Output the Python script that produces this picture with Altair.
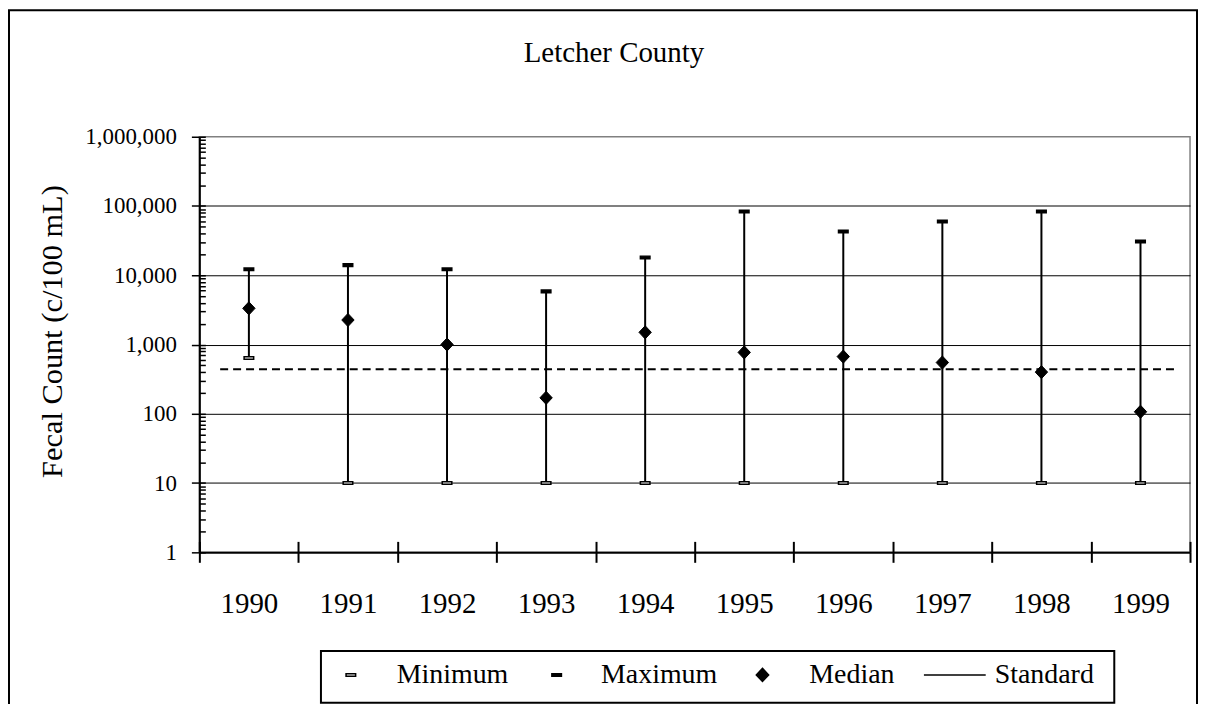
import altair as alt
import pandas as pd

# ---- data ----
years = [1990, 1991, 1992, 1993, 1994, 1995, 1996, 1997, 1998, 1999]
maximum = [12200, 14000, 12200, 5860, 18100, 83400, 42900, 59800, 83400, 30800]
median = [3330, 2260, 1000, 170, 1500, 770, 670, 550, 400, 107]
minimum = [640, 10, 10, 10, 10, 10, 10, 10, 10, 10]
standard_value = 440
standard_x = [1989.71, 1999.36]
series_names = ["Minimum", "Maximum", "Median", "Standard"]
y_major = [1, 10, 100, 1000, 10000, 100000, 1000000]
chart_title = "Letcher County"
y_title = "Fecal Count (c/100 mL)"

# ---- derived tables ----
df = pd.DataFrame({"year": years, "minimum": minimum, "maximum": maximum, "median": median})
rows = []
for y, mn, mx, md in zip(years, minimum, maximum, median):
    rows.append({"year": y, "series": "Minimum", "value": mn})
    rows.append({"year": y, "series": "Maximum", "value": mx})
    rows.append({"year": y, "series": "Median", "value": md})
pts = pd.DataFrame(rows)
std = pd.DataFrame({"sx": standard_x, "sy": [standard_value] * len(standard_x)})

boundaries = [y - 0.5 for y in years] + [years[-1] + 0.5]
x_values = sorted(boundaries + years)
y_minor = [k * 10 ** e for e in range(6) for k in range(1, 10)] + [10 ** 6]

# ---- styling ----
W, H = 994, 417
FONT = "Liberation Serif"
SYM = 400  # symbol area -> unit of custom paths = 10 px

# legend glyphs (unit = 10 px); extra move-to points only widen the legend entry box
min_path = "M0.6,-1.5M0.6,1.5M0.12,-0.13H1.08V0.13H0.12Z"
max_path = "M0.75,-1.5M0.75,1.5M0.27,-0.13H1.23V0.13H0.27Z"
med_path = "M0.5,-1.5M0.5,1.5M0.5,-0.66L1.12,0L0.5,0.66L-0.12,0Z"
std_path = "M-1.9,-1.5M-1.9,1.5M-1.9,0H4.3M15.9,0"
# plot glyphs
rect_path = "M-0.48,-0.13H0.48V0.13H-0.48Z"
diamond_path = "M0,-0.66L0.62,0L0,0.66L-0.62,0Z"

xscale = alt.Scale(domain=[boundaries[0], boundaries[-1]], nice=False, zero=False)
yscale = alt.Scale(type="log", domain=[1, 1000000], nice=False)

bottom_axis = alt.Axis(
    orient="bottom", values=x_values,
    labelExpr="datum.value % 1 === 0 ? format(datum.value, 'd') : ''",
    labelFont=FONT, labelFontSize=29, labelColor="black",
    labelBaseline="alphabetic", labelPadding=50,
    labelOverlap=False, labelFlush=False,
    tickSize=10, tickWidth=2, tickColor="black",
    tickOpacity={"condition": {"test": "datum.value % 1 === 0", "value": 0}, "value": 1},
    domainColor="black", domainWidth=2, grid=False, title=None,
)
left_axis = alt.Axis(
    orient="left", values=y_major,
    labelExpr="format(datum.value, ',')",
    labelFont=FONT, labelFontSize=23, labelColor="black", labelPadding=15,
    labelOverlap=False,
    tickSize=8, tickWidth=1.5, tickColor="black",
    domainColor="black", domainWidth=2,
    grid=True, gridColor="black", gridWidth=1,
    gridOpacity={"condition": {"test": "datum.value >= 1000000 || datum.value <= 1", "value": 0}, "value": 1},
    title=y_title, titleFont=FONT, titleFontSize=30.5, titleFontWeight="normal",
    titleColor="black", titleX=-138, titleY=195, titleBaseline="alphabetic",
    titleAngle=270,
)
top_inner_axis = alt.Axis(
    orient="top", offset=-H, values=boundaries, labels=False, domain=False,
    ticks=True, tickSize=11, tickWidth=2, tickColor="black", grid=False, title=None,
)
right_inner_axis = alt.Axis(
    orient="right", offset=-W, values=y_minor, labels=False, domain=False,
    ticks=True, tickSize=6, tickWidth=1.5, tickColor="black", grid=False, title=None,
)

legend = alt.Legend(
    title=None, orient="none", legendX=122, legendY=516, direction="horizontal",
    labelFont=FONT, labelFontSize=28, labelColor="black", labelOffset=38,
    symbolSize=SYM, symbolStrokeColor="black", symbolStrokeWidth=1.5,
    columnPadding=26, padding=10, strokeColor="black", fillColor="white",
)

bars = alt.Chart(df).mark_rule(color="black", strokeWidth=2).encode(
    x=alt.X("year:Q", scale=xscale, axis=bottom_axis),
    y=alt.Y("minimum:Q", scale=yscale, axis=left_axis),
    y2="maximum:Q",
)

std_line = alt.Chart(std).mark_line(color="black", strokeWidth=2, strokeDash=[8, 5]).encode(
    x=alt.X("sx:Q", scale=xscale, axis=None),
    y=alt.Y("sy:Q", scale=yscale, axis=None),
)

# legend source layer (transparent in the plot)
legend_src = alt.Chart(pts).mark_point(
    filled=True, size=SYM, strokeWidth=1.5, opacity=1
).encode(
    x=alt.X("year:Q", scale=xscale, axis=top_inner_axis),
    y=alt.Y("value:Q", scale=yscale, axis=right_inner_axis),
    shape=alt.Shape("series:N", scale=alt.Scale(domain=series_names,
                    range=[min_path, max_path, med_path, std_path]), legend=legend),
    fill=alt.Fill("series:N", scale=alt.Scale(domain=series_names,
                  range=["white", "black", "black", "transparent"]), legend=legend),
    stroke=alt.Stroke("series:N", scale=alt.Scale(domain=series_names,
                      range=["black", "black", "black", "black"]), legend=legend),
    strokeOpacity=alt.value(0),
    fillOpacity=alt.value(0),
)


def marker_layer(series, shape, fill, sw):
    return alt.Chart(pts).transform_filter(f"datum.series == '{series}'").mark_point(
        shape=shape, filled=True, fill=fill, stroke="black",
        strokeWidth=sw, size=SYM, opacity=1
    ).encode(
        x=alt.X("year:Q", scale=xscale, axis=None),
        y=alt.Y("value:Q", scale=yscale, axis=None),
    )


min_pts = marker_layer("Minimum", rect_path, "white", 1.5)
max_pts = marker_layer("Maximum", rect_path, "black", 1.5)
med_pts = marker_layer("Median", diamond_path, "black", 1)

frame = alt.Chart(alt.Data(values=[{}])).mark_rect(
    fill="transparent", stroke="black", strokeWidth=2
).encode(
    x=alt.value(-191), x2=alt.value(W + 7), y=alt.value(-127), y2=alt.value(H + 200),
)

chart = alt.layer(bars, std_line, legend_src, min_pts, max_pts, med_pts, frame).resolve_axis(
    x="independent", y="independent"
).properties(
    width=W, height=H,
    autosize=alt.AutoSizeParams(type="none"),
    padding={"left": 192, "top": 128, "right": 8, "bottom": 151},
    title=alt.TitleParams(
        text=chart_title, font=FONT, fontSize=29, fontWeight="normal", color="black",
        anchor="middle", frame="group", offset=0, dy=82, dx=-81, baseline="alphabetic",
    ),
).configure_view(stroke="#808080", strokeWidth=1.5).configure_legend(strokeWidth=2)

chart.save("out.html", embed_options={"renderer": "svg", "actions": False})
